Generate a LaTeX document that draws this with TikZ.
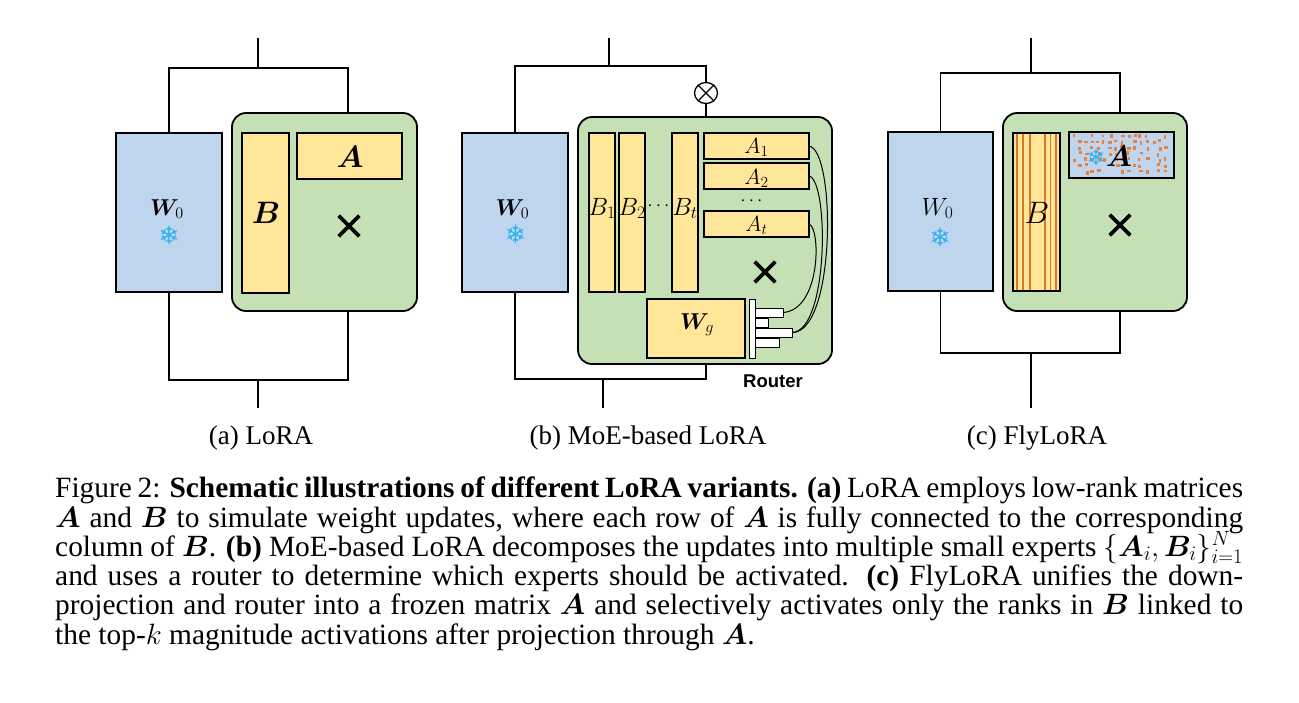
\RequirePackage{fix-cm}
\documentclass[tikz,border=0pt]{standalone}
\usepackage{amsmath}
\usepackage{bm}
\usepackage[no-math]{fontspec}
\setmainfont{Liberation Serif}
\newfontfamily\arialf{Liberation Sans}
\newfontfamily\djv{DejaVu Sans}
\usetikzlibrary{shapes.geometric,shapes.misc}
\definecolor{wblue}{RGB}{190,213,237}
\definecolor{lgreen}{RGB}{197,224,180}
\definecolor{lyellow}{RGB}{255,230,153}
\definecolor{snowc}{RGB}{45,178,240}
\definecolor{orng}{RGB}{228,132,62}
\definecolor{strp}{RGB}{214,122,40}
\tikzset{
 conn/.style={line width=1.3pt},
 sz/.style 2 args={minimum width=#1pt, minimum height=#2pt},
 mat/.style={draw, line width=1.8pt, inner sep=0pt, outer sep=0pt},
 wmat/.style={mat, fill=wblue},
 ymat/.style={mat, fill=lyellow},
 gmat/.style={draw, line width=1.8pt, fill=lgreen, rounded corners=14pt, inner sep=0pt, outer sep=0pt},
 rmat/.style={draw, line width=0.8pt, fill=white, inner sep=0pt, outer sep=0pt},
 xmk/.style={cross out, draw, line width=3.6pt, minimum size=17pt, inner sep=0pt},
 lbl/.style={inner sep=0pt, outer sep=0pt, anchor=base},
 snow/.style={inner sep=0pt, text=snowc, font=\djv\fontsize{25}{25}\selectfont},
 capl/.style={inner sep=0pt, anchor=base west, font=\fontsize{29.4}{29.3}\selectfont},
 subl/.style={inner sep=0pt, anchor=base, font=\fontsize{27}{27}\selectfont},
 curve/.style={line width=1pt},
 stripe/.style={draw=strp, line width=1.3pt},
}
\begin{document}
\begin{tikzpicture}[x=1pt,y=-1pt]
\fill[white] (0,0) rectangle (1299,702);
\useasboundingbox (0,0) rectangle (1299,702);

% ---------------- (a) LoRA ----------------
\node[wmat, sz={106}{159}] (W0a) at (169,212.5) {};
\node[gmat, sz={185}{198}] (Ga) at (324.5,212) {};
\node[ymat, sz={47}{160}] (Ba) at (265.5,213) {};
\node[ymat, sz={105}{46}] (Aa) at (349.5,156) {};
\node[xmk] (xa) at (349,226) {};
\node[lbl, font=\fontsize{23}{23}\selectfont] (lW0a) at (167,215) {$\bm{W}_0$};
\node[snow] (sa) at (169,235) {❄};
\node[lbl, font=\fontsize{31}{31}\selectfont] (lBa) at (266,223) {$\bm{B}$};
\node[lbl, font=\fontsize{31}{31}\selectfont] (lAa) at (350,167) {$\bm{A}$};
\coordinate (aIn) at (258,38);
\coordinate (aSplit) at (258,68);
\coordinate (aR) at (348,68);
\coordinate (aRb) at (348,380);
\coordinate (aJoin) at (258,380);
\coordinate (aOut) at (258,408);
\draw[conn] (aIn) -- (aSplit);
\draw[conn] (W0a.north) |- (aR) -- (aR |- Ga.north);
\draw[conn] (W0a.south) |- (aRb) -- (aRb |- Ga.south);
\draw[conn] (aJoin) -- (aOut);
\node[subl] (capa) at (261,444) {(a) LoRA};

% ---------------- (b) MoE-based LoRA ----------------
\node[wmat, sz={106}{159}] (W0b) at (515,212.5) {};
\node[gmat, sz={254}{247}] (Gb) at (705,240.5) {};
\node[ymat, sz={26}{159}] (B1b) at (602,212.5) {};
\node[ymat, sz={26}{159}] (B2b) at (632,212.5) {};
\node[ymat, sz={26}{159}] (Btb) at (685,212.5) {};
\node[ymat, sz={105}{26}] (A1b) at (756.5,146) {};
\node[ymat, sz={105}{26}] (A2b) at (756.5,176) {};
\node[ymat, sz={105}{26}] (Atb) at (756.5,224) {};
\node[ymat, sz={98}{59}] (Wgb) at (696,328.5) {};
\node[rmat, line width=1pt, sz={6}{59}] (bar) at (752,328.5) {};
\node[rmat, sz={28}{9}] (r1) at (769,312.5) {};
\node[rmat, sz={13}{9}] (r2) at (761.5,322.5) {};
\node[rmat, sz={37}{9}] (r3) at (773.5,332.5) {};
\node[rmat, sz={24}{9}] (r4) at (767,342.5) {};
\draw[curve] (A1b.east) .. controls (836,150) and (836,333) .. (r3.east);
\draw[curve] (A2b.east) .. controls (829,180) and (829,331) .. (r3.east);
\draw[curve] (Atb.east) .. controls (821,228) and (821,310) .. (r1.east);
\node[xmk] (xb) at (765,272) {};
\node[lbl, font=\fontsize{23}{23}\selectfont] (lW0b) at (512.5,215) {$\bm{W}_0$};
\node[snow] (sb) at (515.5,234) {❄};
\node[lbl, font=\fontsize{25}{25}\selectfont] (lB1) at (602,215) {$B_1$};
\node[lbl, font=\fontsize{25}{25}\selectfont] (lB2) at (632,215) {$B_2$};
\node[inner sep=0pt, font=\fontsize{19}{19}\selectfont] (hdots) at (660,206) {$\cdots$};
\node[lbl, font=\fontsize{25}{25}\selectfont] (lBt) at (685,215) {$B_t$};
\node[lbl, font=\fontsize{22}{22}\selectfont] (lA1) at (756.5,153) {$A_1$};
\node[lbl, font=\fontsize{22}{22}\selectfont] (lA2) at (756.5,184) {$A_2$};
\node[inner sep=0pt, font=\fontsize{19}{19}\selectfont] (adots) at (753,201) {$\cdots$};
\node[lbl, font=\fontsize{22}{22}\selectfont] (lAt) at (756.5,231) {$A_t$};
\node[lbl, font=\fontsize{23}{23}\selectfont] (lWg) at (697,329) {$\bm{W}_g$};
\node[lbl, font=\arialf\bfseries\fontsize{18.5}{18.5}\selectfont] (router) at (773,387) {Router};
\node[ellipse, draw, line width=1.3pt, fill=white, minimum width=23pt, minimum height=21pt, inner sep=0pt] (ox) at (706,93) {};
\draw[conn] (ox.45) -- (ox.225);
\draw[conn] (ox.135) -- (ox.315);
\coordinate (bIn) at (609,38);
\coordinate (bSplit) at (609,66);
\coordinate (bR) at (706,66);
\coordinate (bRb) at (706,379);
\coordinate (bJoin) at (603,379);
\coordinate (bOut) at (603,408);
\draw[conn] (bIn) -- (bSplit);
\draw[conn] (W0b.north) |- (bR) -- (ox.north);
\draw[conn] (ox.south) -- (ox.south |- Gb.north);
\draw[conn] (W0b.south) |- (bRb) -- (bRb |- Gb.south);
\draw[conn] (bJoin) -- (bOut);
\node[subl] (capb) at (648,444) {(b) MoE-based LoRA};

% ---------------- (c) FlyLoRA ----------------
\node[wmat, sz={105}{159}] (W0c) at (940.5,211.5) {};
\node[gmat, sz={184}{198}] (Gc) at (1095,212) {};
\node[ymat, sz={47}{158}] (Bc) at (1036.5,212) {};
\foreach \sx in {1017,1023,1030,1045,1050.5,1056}
  \draw[stripe] (\sx,134) -- (\sx,290);
\draw[line width=1.8pt] (Bc.south west) rectangle (Bc.north east);
\node[wmat, sz={105}{46}] (Ac) at (1121.5,155) {};
\pgfmathsetseed{5}
\foreach \ci in {0,...,15}{
  \foreach \cj in {0,...,6}{
    \pgfmathsetmacro{\pr}{rnd}
    \pgfmathsetmacro{\px}{1071+\ci*6.1+2.5*rnd}
    \pgfmathsetmacro{\py}{133.5+\cj*5.9+2*rnd}
    \pgfmathsetmacro{\pw}{2+2*rnd}
    \pgfmathsetmacro{\ph}{2+2*rnd}
    \ifdim\pr pt<0.62pt
      \fill[orng] (\px,\py) rectangle ++(\pw,\ph);
    \fi
  }
}
\draw[line width=1.8pt] (Ac.south west) rectangle (Ac.north east);
\node[xmk] (xc) at (1120,225) {};
\node[lbl, font=\fontsize{25}{25}\selectfont] (lW0c) at (937.5,215) {$W_0$};
\node[snow] (sc) at (940,237) {❄};
\node[lbl, font=\fontsize{31}{31}\selectfont] (lBc) at (1037,223) {$B$};
\node[snow, font=\djv\fontsize{22}{22}\selectfont] (sAc) at (1096,157) {❄};
\node[lbl, font=\fontsize{30}{30}\selectfont] (lAc) at (1119,166) {$\bm{A}$};
\coordinate (cIn) at (1031,38);
\coordinate (cSplit) at (1031,73);
\coordinate (cR) at (1120,73);
\coordinate (cRb) at (1120,353);
\coordinate (cJoin) at (1031,353);
\coordinate (cOut) at (1031,408);
\draw[conn] (cIn) -- (cSplit);
\draw[conn] (W0c.north) |- (cR) -- (cR |- Gc.north);
\draw[conn] (W0c.south) |- (cRb) -- (cRb |- Gc.south);
\draw[conn] (cJoin) -- (cOut);
\node[subl] (capc) at (1037,444) {(c) FlyLoRA};

% ---------------- caption ----------------
\node[capl] (cap1) at (55,497.5) {\makebox[1188pt][s]{Figure 2: \textbf{Schematic illustrations of different LoRA variants. (a)} LoRA employs low-rank matrices}};
\node[capl] (cap2) at (55,527) {\makebox[1188pt][s]{$\bm{A}$ and $\bm{B}$ to simulate weight updates, where each row of $\bm{A}$ is fully connected to the corresponding}};
\node[capl] (cap3) at (55,556.3) {\makebox[1188pt][s]{column of $\bm{B}$. \textbf{(b)} MoE-based LoRA decomposes the updates into multiple small experts $\{\bm{A}_i,\bm{B}_i\}_{i=1}^N$}};
\node[capl] (cap4) at (55,585.6) {\makebox[1188pt][s]{and uses a router to determine which experts should be activated. \textbf{(c)} FlyLoRA unifies the down-}};
\node[capl] (cap5) at (55,614.9) {\makebox[1188pt][s]{projection and router into a frozen matrix $\bm{A}$ and selectively activates only the ranks in $\bm{B}$ linked to}};
\node[capl] (cap6) at (55,644.2) {the top-$k$ magnitude activations after projection through $\bm{A}$.};
\end{tikzpicture}
\end{document}
